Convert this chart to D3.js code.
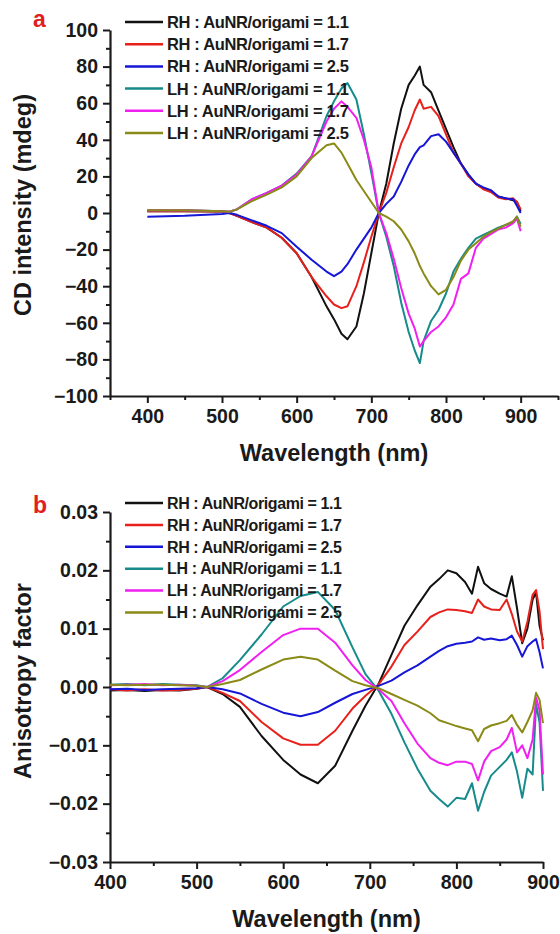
<!DOCTYPE html>
<html>
<head>
<meta charset="utf-8">
<script src="https://cdn.jsdelivr.net/npm/d3@7/dist/d3.min.js"></script>
<style>
  body { margin: 0; background: #fff; }
  svg text { font-family: "Liberation Sans", Arial, sans-serif; font-weight: bold; fill: #1a1a1a; }
</style>
</head>
<body>
<div id="chart"></div>
<script>
// legend labels, same for both panels
var seriesNames = [
  "RH : AuNR/origami = 1.1",
  "RH : AuNR/origami = 1.7",
  "RH : AuNR/origami = 2.5",
  "LH : AuNR/origami = 1.1",
  "LH : AuNR/origami = 1.7",
  "LH : AuNR/origami = 2.5"
];
var seriesColors = ["#111111", "#e8201c", "#1616d6", "#178b8b", "#f020f0", "#8a8a16"];

// ---- panel a : CD intensity (mdeg) ----
var wavelengthA = [400, 450, 500, 510, 520, 540, 560, 580, 600, 620, 640, 650, 660, 668, 680, 690, 700, 710,
  720, 730, 740, 750, 758, 765, 770, 780, 790, 800, 810, 820, 830, 840, 850, 860, 870, 880, 890, 895, 900];
var rh11A = [1, 1, 0.8, 0, -1.5, -5, -8, -13.5, -22, -35, -51, -58, -66, -69, -62, -44, -22, 0,
  16, 38, 57, 70, 75, 80, 70, 66, 56, 46, 36, 27, 21, 16, 13.5, 12, 9, 8, 7, 6, 1];
var rh17A = [1, 1, 0.8, 0, -1.5, -5, -8, -13.5, -22, -35, -45.5, -50, -52, -51, -40, -27, -13, 0,
  11, 25, 38, 47, 56, 62, 57, 58, 53, 43, 33, 27, 20, 16, 13, 11.5, 8.5, 7.5, 8, 6, 2];
var rh25A = [-2, -1.5, -0.5, 0, -1, -4, -7, -11, -18.5, -25.5, -32, -34.5, -32, -28, -20, -14, -8, 0,
  5, 9, 17, 26, 32, 36, 37, 42, 43, 39, 33, 27, 21, 16, 14, 12.5, 9, 8, 7.5, 4, 0];
var lh11A = [1.5, 1.5, 1, 0.7, 2, 7.5, 11, 15, 21.5, 31, 53, 61, 68, 71, 62, 43, 22, 0,
  -13, -29, -49, -65, -75, -82, -70, -59, -53, -44, -32, -25, -19, -14, -12, -10, -8, -6.5, -5, -2, -6];
var lh17A = [1.5, 1.5, 1, 0.7, 2, 7.5, 11, 15, 21, 31, 50, 57, 61, 58, 52, 40, 25, 0,
  -11, -25, -41, -55, -63, -73, -70, -65, -62, -57, -50, -36, -33, -19, -14, -11.5, -9, -8, -5.5, -3, -10];
var lh25A = [1.5, 1.5, 1, 0.7, 2, 6.5, 10, 14, 20, 30, 37, 38, 33, 27, 18, 12, 6, 0,
  -2, -4.5, -9, -15.5, -22, -29, -33, -40, -44.5, -42, -35, -26, -20, -16.5, -13, -10.5, -8.5, -6.5, -4.5, -2, -7.5];
var yTicksA = [-100, -80, -60, -40, -20, 0, 20, 40, 60, 80, 100];

// ---- panel b : anisotropy factor ----
var wavelengthB = [400, 420, 440, 460, 480, 500, 512, 530, 550, 575, 600, 620, 640, 660, 680, 695, 710,
  725, 740, 755, 770, 780, 790, 800, 810, 818, 825, 832, 840, 850, 858, 864, 870, 876, 882, 888, 892, 896, 900];
var rh11B = [-0.0006, -0.0005, -0.0007, -0.0005, -0.0006, -0.0003, 0, -0.0012, -0.0034, -0.0084, -0.0125, -0.0150, -0.0165, -0.0135, -0.0075, -0.0032, 0.0005,
  0.0055, 0.0105, 0.0140, 0.0172, 0.0185, 0.0200, 0.0195, 0.0180, 0.0160, 0.0206, 0.0178, 0.0168, 0.0160, 0.0155, 0.0190, 0.0135, 0.0075, 0.0100, 0.0150, 0.0162, 0.0105, 0.0080];
var rh17B = [-0.0004, -0.0006, -0.0004, -0.0006, -0.0005, -0.0003, 0, -0.0010, -0.0024, -0.0060, -0.0088, -0.0099, -0.0099, -0.0075, -0.0037, -0.0015, 0.0004,
  0.0035, 0.0072, 0.0095, 0.0120, 0.0128, 0.0133, 0.0132, 0.0130, 0.0127, 0.0150, 0.0138, 0.0133, 0.0132, 0.0150, 0.0125, 0.0095, 0.0078, 0.0112, 0.0158, 0.0166, 0.0130, 0.0065];
var rh25B = [-0.0004, -0.0003, -0.0005, -0.0004, -0.0003, -0.0002, 0, -0.0004, -0.0011, -0.0029, -0.0044, -0.0050, -0.0043, -0.0027, -0.0012, -0.0005, 0.0002,
  0.0011, 0.0025, 0.0037, 0.0052, 0.0062, 0.0070, 0.0074, 0.0076, 0.0078, 0.0085, 0.0081, 0.0083, 0.0080, 0.0082, 0.0088, 0.0072, 0.0052, 0.0070, 0.0078, 0.0082, 0.0060, 0.0032];
var lh11B = [0.0004, 0.0005, 0.0003, 0.0005, 0.0004, 0.0003, 0, 0.0015, 0.0046, 0.0090, 0.0138, 0.0156, 0.0163, 0.0132, 0.0068, 0.0022, -0.0006,
  -0.0046, -0.0095, -0.0140, -0.0178, -0.0192, -0.0205, -0.0190, -0.0192, -0.0165, -0.0212, -0.0180, -0.0152, -0.0137, -0.0125, -0.0112, -0.0145, -0.0190, -0.0140, -0.0150, -0.0030, -0.0060, -0.0178];
var lh17B = [0.0003, 0.0004, 0.0005, 0.0003, 0.0004, 0.0002, 0, 0.0010, 0.0029, 0.0060, 0.0089, 0.0100, 0.0100, 0.0076, 0.0037, 0.0012, -0.0004,
  -0.0024, -0.0062, -0.0097, -0.0122, -0.0130, -0.0134, -0.0128, -0.0128, -0.0132, -0.0160, -0.0128, -0.0110, -0.0103, -0.0090, -0.0070, -0.0112, -0.0100, -0.0122, -0.0090, -0.0018, -0.0040, -0.0150];
var lh25B = [0.0004, 0.0003, 0.0004, 0.0004, 0.0003, 0.0002, 0, 0.0005, 0.0012, 0.0030, 0.0047, 0.0052, 0.0047, 0.0028, 0.0010, 0.0003, -0.0002,
  -0.0012, -0.0022, -0.0032, -0.0045, -0.0057, -0.0062, -0.0067, -0.0071, -0.0074, -0.0093, -0.0072, -0.0066, -0.0062, -0.0058, -0.0048, -0.0065, -0.0078, -0.0060, -0.0040, -0.0010, -0.0022, -0.0062];
var yTicksB = [-0.03, -0.02, -0.01, 0, 0.01, 0.02, 0.03];

var xTicks = [400, 500, 600, 700, 800, 900];

var svg = d3.select("#chart")
  .append("svg")
  .attr("width", 560)
  .attr("height", 934);

// draws one panel: axes, curves, legend, labels
function drawPanel(p) {
  var x = d3.scaleLinear().domain(p.xDomain).range(p.xRange);
  var y = d3.scaleLinear().domain(p.yDomain).range(p.yRange);
  var g = svg.append("g");

  // minor ticks first, then major axis on top
  var xMinor = d3.range(p.xDomain[0], p.xDomain[1] + 1, 50).filter(v => v % 100 !== 0);
  g.append("g")
    .attr("transform", `translate(0, ${p.yRange[0]})`)
    .call(d3.axisBottom(x).tickValues(xMinor).tickSize(4).tickFormat(""))
    .call(a => a.select(".domain").remove());
  g.append("g")
    .attr("transform", `translate(${p.xRange[0]}, 0)`)
    .call(d3.axisLeft(y).tickValues(p.yMinor).tickSize(4).tickFormat(""))
    .call(a => a.select(".domain").remove());

  var xAxis = g.append("g")
    .attr("transform", `translate(0, ${p.yRange[0]})`)
    .call(d3.axisBottom(x).tickValues(xTicks).tickSizeInner(7).tickSizeOuter(0).tickPadding(6));
  var yAxis = g.append("g")
    .attr("transform", `translate(${p.xRange[0]}, 0)`)
    .call(d3.axisLeft(y).tickValues(p.yTicks).tickSizeInner(7).tickSizeOuter(0).tickPadding(5).tickFormat(p.yFormat));

  g.selectAll(".tick line").attr("stroke", "#1a1a1a").attr("stroke-width", 2);
  g.selectAll(".domain").attr("stroke", "#1a1a1a").attr("stroke-width", 2.2);
  xAxis.selectAll("text").style("font-size", "19.5px").attr("fill", "#1a1a1a");
  yAxis.selectAll("text").style("font-size", "19.5px").attr("fill", "#1a1a1a");

  // curves
  var line = d3.line()
    .x((d, i) => x(p.wl[i]))
    .y(d => y(d));
  g.selectAll("path.curve")
    .data(p.series)
    .enter()
    .append("path")
    .attr("class", "curve")
    .attr("d", d => line(d))
    .attr("fill", "none")
    .attr("stroke", (d, i) => seriesColors[i])
    .attr("stroke-width", 2)
    .attr("stroke-linejoin", "round");

  // legend
  var leg = g.selectAll("g.leg")
    .data(seriesNames)
    .enter()
    .append("g")
    .attr("class", "leg")
    .attr("transform", (d, i) => `translate(125, ${p.legendTop + i * p.legendStep})`);
  leg.append("line")
    .attr("x1", 0).attr("x2", 38)
    .attr("stroke", (d, i) => seriesColors[i])
    .attr("stroke-width", 2.5);
  leg.append("text")
    .attr("x", 42)
    .attr("dy", "0.36em")
    .attr("textLength", p.legendWidth)
    .attr("lengthAdjust", "spacing")
    .style("font-size", p.legendFont)
    .text(d => d);

  // axis titles
  g.append("text")
    .attr("x", (p.xRange[0] + p.xRange[1]) / 2)
    .attr("y", p.xTitleY)
    .attr("text-anchor", "middle")
    .style("font-size", "23.5px")
    .text("Wavelength (nm)");
  g.append("text")
    .attr("transform", `translate(31, ${p.yTitleMid}) rotate(-90)`)
    .attr("text-anchor", "middle")
    .style("font-size", "23.5px")
    .text(p.yTitle);

  // panel letter
  g.append("text")
    .attr("x", 33)
    .attr("y", p.letterY)
    .style("font-size", "23px")
    .style("fill", "#e0201e")
    .text(p.letter);
}

drawPanel({
  letter: "a", letterY: 27,
  wl: wavelengthA,
  series: [rh11A, rh17A, rh25A, lh11A, lh17A, lh25A],
  xDomain: [350, 950], xRange: [110, 558],
  yDomain: [-100, 100], yRange: [396, 30],
  yTicks: yTicksA, yMinor: d3.range(-90, 100, 20),
  yFormat: d3.format("d"),
  legendTop: 22, legendStep: 22.2, legendFont: "16.5px", legendWidth: 182,
  xTitleY: 461, yTitle: "CD intensity (mdeg)", yTitleMid: 205
});

drawPanel({
  letter: "b", letterY: 513,
  wl: wavelengthB,
  series: [rh11B, rh17B, rh25B, lh11B, lh17B, lh25B],
  xDomain: [400, 900], xRange: [110, 543],
  yDomain: [-0.03, 0.03], yRange: [862, 512],
  yTicks: yTicksB, yMinor: [-0.025, -0.015, -0.005, 0.005, 0.015, 0.025],
  yFormat: d3.format(".2f"),
  legendTop: 503, legendStep: 21.9, legendFont: "16px", legendWidth: 175,
  xTitleY: 927, yTitle: "Anisotropy factor", yTitleMid: 681
});
</script>
</body>
</html>
